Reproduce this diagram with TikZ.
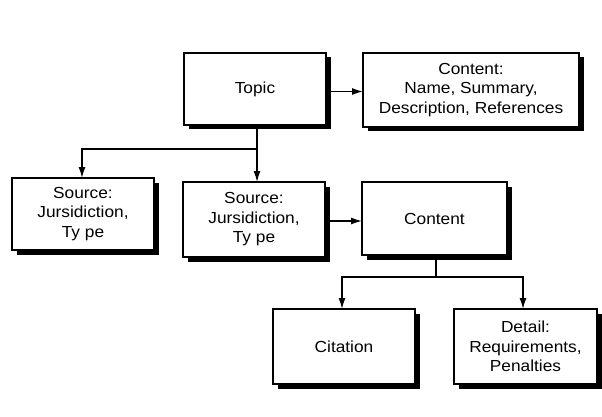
\documentclass[tikz,border=0pt]{standalone}
\usepackage{fontspec}
\setmainfont{Liberation Sans}[FakeStretch=1.08]
\usetikzlibrary{arrows.meta,shadows}
\begin{document}
\begin{tikzpicture}[x=1pt,y=-1pt,
  box/.style={draw=black,line width=1.4pt,fill=white,inner sep=0pt,outer sep=0pt,
    align=center,font=\fontsize{16}{19.5}\selectfont,
    drop shadow={shadow xshift=4.5pt,shadow yshift=-4.5pt,opacity=1,fill=black}},
  conn/.style={line width=1.4pt},
  arr/.style={conn,-{Latex[length=11pt,width=7pt]}}]
\useasboundingbox (0,0) rectangle (602,417);
\node[box,minimum width=142pt,minimum height=72pt] (topic) at (255,89) {Topic};
\node[box,minimum width=216pt,minimum height=74pt] (cont1) at (471,90) {Content:\\Name, Summary,\\Description, References};
\node[box,minimum width=142pt,minimum height=72pt] (src1) at (83,214) {Source:\\Jursidiction,\\Ty pe};
\node[box,minimum width=142pt,minimum height=75pt] (src2) at (254,219.5) {Source:\\Jursidiction,\\Ty pe};
\node[box,minimum width=145pt,minimum height=73pt] (cont2) at (434.5,218.5) {Content};
\node[box,minimum width=142pt,minimum height=75pt] (cit) at (344,346.5) {Citation};
\node[box,minimum width=143pt,minimum height=75pt] (det) at (525.5,346.5) {Detail:\\Requirements,\\Penalties};
\coordinate (tj) at (257,149);
\coordinate (cj) at (436,277);
\draw[arr] ([yshift=-2.5pt]topic.east) -- ([yshift=-2.5pt]topic.east -| cont1.west);
\draw[arr] ([yshift=-1.5pt]src2.east) -- ([yshift=-1.5pt]src2.east -| cont2.west);
\draw[conn] (topic.south -| tj) -- (tj);
\draw[arr] (tj) -| ([xshift=-1pt]src1.north);
\draw[arr] (tj) -- (src2.north -| tj);
\draw[conn] (cont2.south -| cj) -- (cj);
\draw[arr] (cj) -| ([xshift=-2pt]cit.north);
\draw[arr] (cj) -| ([xshift=-2.5pt]det.north);
\end{tikzpicture}
\end{document}
